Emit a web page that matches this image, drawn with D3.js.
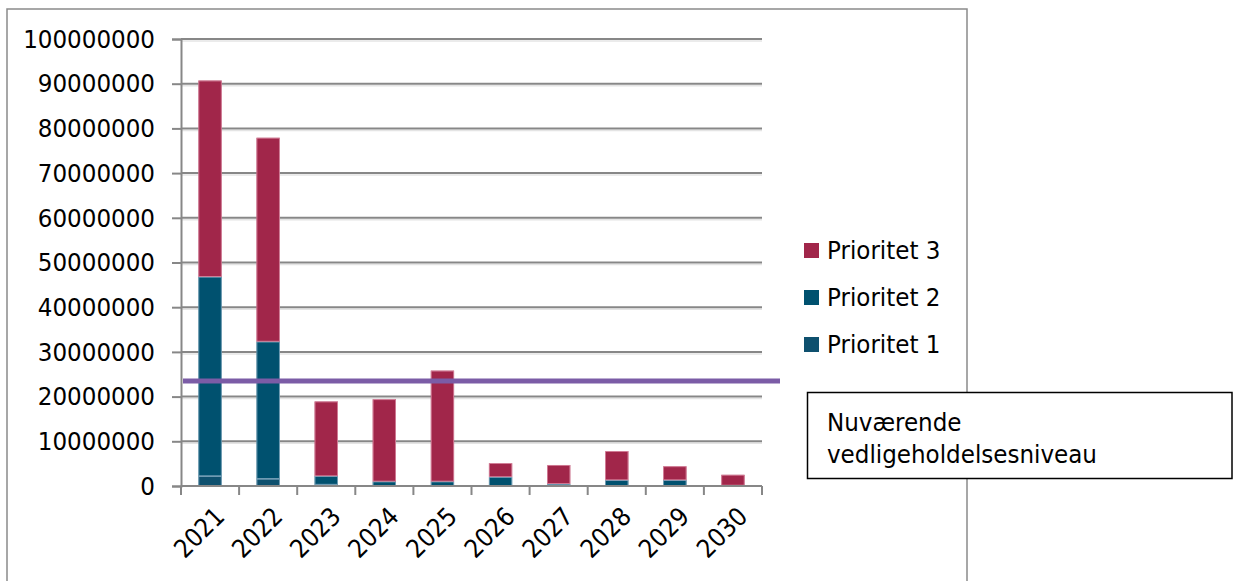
<!DOCTYPE html>
<html>
<head>
<meta charset="utf-8">
<script src="https://cdn.jsdelivr.net/npm/d3@7"></script>
<style>
  html, body { margin: 0; padding: 0; background: #fff; }
  svg { display: block; }
  text { font-family: "DejaVu Sans Condensed", "DejaVu Sans", sans-serif; fill: #000; }
</style>
</head>
<body>
<svg id="chart" width="1235" height="581"></svg>
<script>
// ---- data ----
const years = ["2021","2022","2023","2024","2025","2026","2027","2028","2029","2030"];
const prioritet1 = [2200000, 1600000, 300000, 0, 0, 0, 0, 0, 0, 0];
const prioritet2 = [44600000, 30700000, 1900000, 1000000, 1000000, 2000000, 450000, 1300000, 1300000, 100000];
const prioritet3 = [43900000, 45600000, 16700000, 18400000, 24800000, 3100000, 4250000, 6500000, 3100000, 2400000];
const seriesNames = ["Prioritet 1", "Prioritet 2", "Prioritet 3"];
const seriesColors = ["#0e506e", "#00516f", "#a1264a"];
const yTicks = [0,10000000,20000000,30000000,40000000,50000000,60000000,70000000,80000000,90000000,100000000];
const currentLevel = 23500000;
const annotationLines = ["Nuværende", "vedligeholdelsesniveau"];

const FS = 25.6;
const svg = d3.select("#chart");

// outer frame
svg.append("rect").attr("x", 7).attr("y", 9).attr("width", 960).attr("height", 600)
  .attr("fill", "#fff").attr("stroke", "#8a8a8a").attr("stroke-width", 1.5);

const x = d3.scaleBand().domain(years).range([181, 762]).paddingInner(0.6).paddingOuter(0.3);
const y = d3.scaleLinear().domain([0, 100000000]).range([486, 39]);

// gridlines with soft shadow
const grid = svg.append("g");
grid.selectAll("line.sh").data(yTicks.slice(1)).join("line")
  .attr("x1", 181).attr("x2", 762).attr("y1", d => y(d) + 2).attr("y2", d => y(d) + 2)
  .attr("stroke", "#e4e4e4").attr("stroke-width", 1.5);
grid.selectAll("line.g").data(yTicks.slice(1)).join("line")
  .attr("x1", 181).attr("x2", 762).attr("y1", d => y(d)).attr("y2", d => y(d))
  .attr("stroke", "#878787").attr("stroke-width", 2);

// y axis
const yAxis = d3.axisLeft(y).tickValues(yTicks).tickFormat(d3.format("d")).tickSize(9).tickPadding(17);
const gy = svg.append("g").attr("transform", "translate(181,0)").call(yAxis);
gy.select(".domain").attr("stroke", "#878787").attr("stroke-width", 2);
gy.selectAll(".tick line").attr("stroke", "#878787").attr("stroke-width", 2);
gy.selectAll(".tick text").attr("font-size", FS).attr("font-family", "'DejaVu Sans Condensed','DejaVu Sans',sans-serif").attr("fill", "#000");

// stacked bars
const table = years.map((yr, i) => ({year: yr, "Prioritet 1": prioritet1[i], "Prioritet 2": prioritet2[i], "Prioritet 3": prioritet3[i]}));
const stack = d3.stack().keys(seriesNames)(table);
const strokeColors = ["#7fa6bd", "#7fa6bd", "#d98aa2"];
svg.append("g").selectAll("g").data(stack).join("g")
  .attr("fill", (d, i) => seriesColors[i])
  .selectAll("rect").data(d => d.filter(s => s[1] - s[0] > 0)).join("rect")
  .attr("x", d => x(d.data.year))
  .attr("width", x.bandwidth())
  .attr("y", d => y(d[1]))
  .attr("height", d => y(d[0]) - y(d[1]));
svg.append("g").selectAll("g").data(stack).join("g")
  .attr("stroke", (d, i) => strokeColors[i]).attr("fill", "none").attr("stroke-width", 0.8)
  .selectAll("rect").data(d => d.filter(s => s[1] - s[0] > 0)).join("rect")
  .attr("x", d => x(d.data.year) + 0.4)
  .attr("width", x.bandwidth() - 0.8)
  .attr("y", d => y(d[1]) + 0.4)
  .attr("height", d => Math.max(0, y(d[0]) - y(d[1]) - 0.8));

// x axis
const xTickPos = years.map(yr => x(yr) - x.step() * 0.3).concat([762]);
const gx = svg.append("g");
gx.append("line").attr("x1", 181).attr("x2", 762).attr("y1", 486).attr("y2", 486)
  .attr("stroke", "#878787").attr("stroke-width", 2);
gx.selectAll("line.t").data(xTickPos).join("line")
  .attr("x1", d => d).attr("x2", d => d).attr("y1", 486).attr("y2", 495)
  .attr("stroke", "#878787").attr("stroke-width", 2);
gx.selectAll("text").data(years).join("text")
  .attr("transform", d => `translate(${x(d) + x.bandwidth() / 2 + 3},${505}) rotate(-45)`)
  .attr("text-anchor", "end").attr("dy", "0.72em")
  .attr("font-size", FS)
  .text(d => d);

// current level line (overlay shape) with shadow
const defs = svg.append("defs");
const f = defs.append("filter").attr("id", "blur").attr("x", "-5%").attr("y", "-200%").attr("width", "110%").attr("height", "500%");
f.append("feGaussianBlur").attr("stdDeviation", 2);
svg.append("line").attr("x1", 183).attr("x2", 780).attr("y1", y(currentLevel) + 4).attr("y2", y(currentLevel) + 4)
  .attr("stroke", "#9a9a9a").attr("stroke-width", 5).attr("opacity", 0.6).attr("filter", "url(#blur)");
svg.append("line").attr("x1", 183).attr("x2", 780).attr("y1", y(currentLevel)).attr("y2", y(currentLevel))
  .attr("stroke", "#7b5ca6").attr("stroke-width", 5);

// legend
const legendOrder = [2, 1, 0];
const lg = svg.append("g");
legendOrder.forEach((si, k) => {
  const cy = 250 + k * 47;
  lg.append("rect").attr("x", 804).attr("y", cy - 7).attr("width", 15).attr("height", 15).attr("fill", seriesColors[si]);
  lg.append("text").attr("x", 827).attr("y", cy + 8.5).attr("font-size", FS).text(seriesNames[si]);
});

// annotation box
svg.append("rect").attr("x", 807.5).attr("y", 392.5).attr("width", 424.5).attr("height", 86)
  .attr("fill", "#fff").attr("stroke", "#000").attr("stroke-width", 1.5);
svg.append("g").selectAll("text").data(annotationLines).join("text")
  .attr("x", 827).attr("y", (d, i) => 431 + i * 32).attr("font-size", FS).text(d => d);
</script>
</body>
</html>
